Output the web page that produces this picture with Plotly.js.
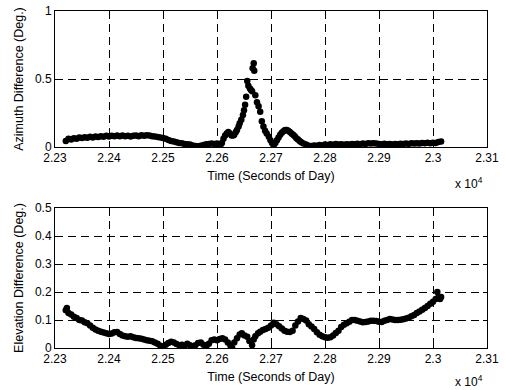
<!DOCTYPE html>
<html>
<head>
<meta charset="utf-8">
<script src="https://cdn.plot.ly/plotly-3.0.1.min.js"></script>
<style>html,body{margin:0;padding:0;background:#fff;}#chart{width:505px;height:390px;}</style>
</head>
<body>
<div id="chart"></div>
<script>
// Time in seconds of day
const azTime = [22320,22325,22330,22335,22340,22345,22350,22355,22360,22365,22370,22375,22380,22385,22390,22395,22400,22405,22410,22415,22420,22425,22430,22435,22440,22445,22450,22455,22460,22465,22470,22475,22480,22485,22490,22495,22500,22505,22510,22515,22520,22525,22530,22535,22540,22545,22550,22555,22560,22565,22570,22575,22580,22585,22590,22595,
22600,22603,22606,22609,22612,22615,22618,22621,22624,22627,22630,22632,22635,22637,22640,22642,22645,22648,22650,22652,22654,22656,22658,22661,22663,22665,22666,22668,22669,22671,22674,22677,22680,22683,22686,22689,22692,22696,22699,22702,22705,22708,22711,22714,22717,22720,22723,22726,22729,22732,22735,22738,22741,22744,22747,22750,22753,22756,22760,22765,22770,22775,
22780,22785,22790,22795,22800,22805,22810,22815,22820,22825,22830,22835,22840,22845,22850,22855,22860,22865,22870,22875,22880,22885,22890,22895,22900,22905,22910,22915,22920,22925,22930,22935,22940,22945,22950,22955,22960,22965,22970,22975,22980,22985,22990,22995,23000,23005,23010,23015];
const azValue = [0.045,0.06,0.055,0.065,0.06,0.07,0.066,0.072,0.068,0.075,0.07,0.078,0.074,0.08,0.076,0.082,0.078,0.083,0.08,0.085,0.079,0.084,0.08,0.082,0.078,0.083,0.085,0.08,0.086,0.083,0.087,0.084,0.08,0.078,0.074,0.07,0.066,0.06,0.052,0.045,0.04,0.035,0.03,0.027,0.022,0.02,0.018,0.012,0.008,0.005,0.01,0.015,0.02,0.022,0.025,0.022,
0.025,0.01,0.005,0.03,0.06,0.085,0.1,0.11,0.1,0.085,0.085,0.09,0.11,0.125,0.15,0.175,0.2,0.235,0.27,0.31,0.37,0.485,0.45,0.43,0.42,0.41,0.58,0.615,0.56,0.38,0.33,0.30,0.26,0.19,0.15,0.12,0.1,0.076,0.05,0.03,0.01,0.03,0.05,0.07,0.09,0.105,0.115,0.125,0.125,0.12,0.11,0.1,0.09,0.08,0.065,0.055,0.045,0.035,0.025,0.018,0.01,0.008,
0.012,0.01,0.015,0.012,0.018,0.015,0.02,0.017,0.022,0.018,0.02,0.016,0.021,0.018,0.022,0.02,0.024,0.02,0.025,0.022,0.027,0.025,0.028,0.025,0.022,0.02,0.024,0.02,0.022,0.019,0.023,0.02,0.024,0.022,0.026,0.023,0.027,0.025,0.028,0.026,0.03,0.027,0.031,0.028,0.032,0.03,0.036,0.04];

const elTime = [22320,22322,22325,22330,22335,22340,22345,22350,22355,22360,22365,22370,22375,22380,22385,22390,22395,22400,22405,22410,22415,22420,22425,22430,22435,22440,22445,22450,22455,22460,22465,22470,22475,22480,22485,22490,22495,22500,22505,22510,22515,22520,22525,22530,22535,22540,22545,22550,22555,22560,22565,22570,22575,22580,22585,22590,22595,22600,22605,22610,22615,22620,22625,22628,22632,22637,22642,22646,22651,22656,22660,22665,22668,22671,22676,22680,22685,22690,22695,22700,22705,22710,22715,22720,22725,22730,22735,22740,22745,22750,22755,22760,22765,22770,22775,22780,22785,22790,22795,22800,22805,22810,22815,22820,22825,22830,22835,22840,22845,22850,22855,22860,22865,22870,22875,22880,22885,22890,22895,22900,22905,22910,22915,22920,22925,22930,22935,22940,22945,22950,22955,22960,22965,22970,22975,22980,22985,22990,22995,23000,23005,23008,23010,23013,23015];
const elValue = [0.135,0.143,0.125,0.12,0.112,0.107,0.1,0.098,0.092,0.088,0.08,0.072,0.066,0.062,0.058,0.055,0.053,0.05,0.052,0.056,0.057,0.05,0.045,0.042,0.04,0.042,0.038,0.036,0.035,0.033,0.03,0.028,0.026,0.024,0.02,0.015,0.008,0.005,0.012,0.018,0.022,0.02,0.014,0.01,0.012,0.008,0.015,0.01,0.005,0.01,0.018,0.02,0.012,0.005,0.015,0.028,0.03,0.028,0.032,0.035,0.03,0.02,0.008,0.0,0.02,0.035,0.048,0.053,0.045,0.04,0.025,0.01,0.03,0.042,0.053,0.058,0.064,0.068,0.072,0.08,0.09,0.085,0.078,0.07,0.062,0.058,0.057,0.062,0.08,0.095,0.107,0.104,0.098,0.085,0.077,0.068,0.056,0.047,0.042,0.038,0.037,0.038,0.045,0.054,0.062,0.075,0.083,0.088,0.094,0.1,0.1,0.097,0.095,0.092,0.093,0.095,0.097,0.097,0.096,0.094,0.093,0.097,0.1,0.104,0.102,0.1,0.1,0.101,0.103,0.105,0.108,0.113,0.118,0.125,0.13,0.137,0.143,0.15,0.158,0.165,0.175,0.2,0.18,0.175,0.182];

const xTickVals = [22300,22400,22500,22600,22700,22800,22900,23000,23100];
const xTickText = ['2.23','2.24','2.25','2.26','2.27','2.28','2.29','2.3','2.31'];
const azTickVals = [0,0.5,1];
const azTickText = ['0','0.5','1'];
const elTickVals = [0,0.1,0.2,0.3,0.4,0.5];
const elTickText = ['0','0.1','0.2','0.3','0.4','0.5'];

const fontFam = 'Liberation Sans, Arial, sans-serif';
const marker = {color:'#000', size:6.5, line:{width:0}};

const traces = [
  {x: azTime, y: azValue, type:'scatter', mode:'markers', marker: marker, xaxis:'x', yaxis:'y', hoverinfo:'skip'},
  {x: elTime, y: elValue, type:'scatter', mode:'markers', marker: marker, xaxis:'x2', yaxis:'y2', hoverinfo:'skip'}
];

function xAxis(anchor){
  return {
    anchor: anchor, domain:[0,1], range:[22300,23100],
    tickvals: xTickVals, ticktext: xTickText,
    showline:true, mirror:'ticks', linecolor:'#000', linewidth:1,
    ticks:'inside', ticklen:4, tickcolor:'#000',
    showgrid:true, gridcolor:'#000', gridwidth:1, griddash:'8px,5px',
    zeroline:false, tickfont:{size:12, color:'#000', family:fontFam},
    title:{text:'Time (Seconds of Day)', font:{size:12.5, color:'#000', family:fontFam}, standoff:6}
  };
}
function yAxis(anchor, dom, rng, tv, tt, ttl){
  return {
    anchor: anchor, domain: dom, range: rng,
    tickvals: tv, ticktext: tt,
    showline:true, mirror:'ticks', linecolor:'#000', linewidth:1,
    ticks:'inside', ticklen:4, tickcolor:'#000',
    showgrid:true, gridcolor:'#000', gridwidth:1, griddash:'8px,5px',
    zeroline:false, tickfont:{size:12, color:'#000', family:fontFam},
    title:{text: ttl, font:{size:12.5, color:'#000', family:fontFam}, standoff:8}
  };
}

const layout = {
  width:505, height:390,
  paper_bgcolor:'#fff', plot_bgcolor:'#fff',
  margin:{l:55, r:18, t:11, b:42},
  showlegend:false,
  font:{family:fontFam, color:'#000'},
  xaxis: xAxis('y'),
  yaxis: yAxis('x', [0.5964,1], [0,1], azTickVals, azTickText, 'Azimuth Difference (Deg.)'),
  xaxis2: xAxis('y2'),
  yaxis2: yAxis('x2', [0,0.4154], [0,0.5], elTickVals, elTickText, 'Elevation Difference (Deg.)'),
  annotations:[
    {text:'x 10<sup>4</sup>', xref:'paper', yref:'paper', x:0.958, y:0.49, showarrow:false, xanchor:'center', yanchor:'middle', font:{size:12, color:'#000', family:fontFam}},
    {text:'x 10<sup>4</sup>', xref:'paper', yref:'paper', x:0.958, y:-0.097, showarrow:false, xanchor:'center', yanchor:'middle', font:{size:12, color:'#000', family:fontFam}}
  ]
};

Plotly.newPlot('chart', traces, layout, {staticPlot:true, displayModeBar:false});
</script>
</body>
</html>
